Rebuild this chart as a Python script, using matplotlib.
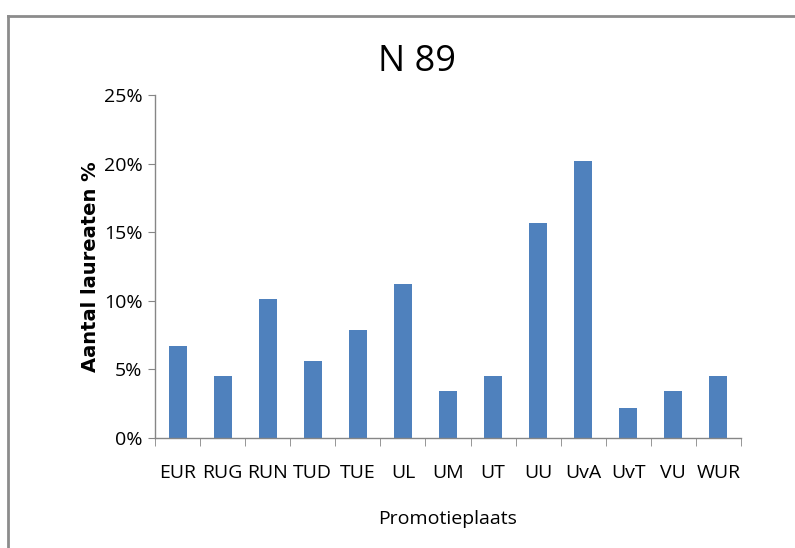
import matplotlib.pyplot as plt
from matplotlib.lines import Line2D
from matplotlib.ticker import PercentFormatter

plt.rcParams['font.family'] = ['Liberation Sans Narrow', 'Open Sans', 'DejaVu Sans']

# Data: share of laureates per promotion place (N = 89)
places = ['EUR', 'RUG', 'RUN', 'TUD', 'TUE', 'UL', 'UM', 'UT', 'UU', 'UvA', 'UvT', 'VU', 'WUR']
share = [6.7, 4.5, 10.1, 5.6, 7.9, 11.2, 3.4, 4.5, 15.7, 20.2, 2.2, 3.4, 4.5]

fig = plt.figure(figsize=(7.95, 5.48), dpi=100)
ax = fig.add_axes([0.195, 0.2007, 0.737, 0.6259])

ax.bar(range(len(places)), share, width=0.4, color='#4F81BD')

ax.set_xlim(-0.5, len(places) - 0.5)
ax.set_ylim(0, 25)
ax.set_yticks([0, 5, 10, 15, 20, 25])
ax.yaxis.set_major_formatter(PercentFormatter(decimals=0))
ax.set_xticks(range(len(places)))
ax.set_xticklabels(places)
ax.set_xticks([i - 0.5 for i in range(len(places) + 1)], minor=True)

for s in ['top', 'right']:
    ax.spines[s].set_visible(False)
for s in ['left', 'bottom']:
    ax.spines[s].set_color('#868686')
    ax.spines[s].set_linewidth(1)

ax.tick_params(axis='x', which='major', length=0, labelsize=14, pad=19)
ax.tick_params(axis='x', which='minor', length=6, color='#868686')
ax.tick_params(axis='y', length=5, color='#868686', labelsize=14, pad=4)

# title sits a bit left of the plot centre, like the original
fig.text(0.524, 0.887, 'N 89', fontsize=26, ha='center', va='center')
ax.set_xlabel('Promotieplaats', fontsize=14, labelpad=20)
ax.set_ylabel('Aantal laureaten %', fontsize=14, fontweight='bold', family='DejaVu Sans', labelpad=3)

# outer chart border (top and left only visible)
fig.add_artist(Line2D([0.010, 0.010], [0.0, 0.971], color='#8c8c8c', lw=2))
fig.add_artist(Line2D([0.010, 1.0], [0.971, 0.971], color='#8c8c8c', lw=2))

plt.savefig('out.png', dpi=100)
